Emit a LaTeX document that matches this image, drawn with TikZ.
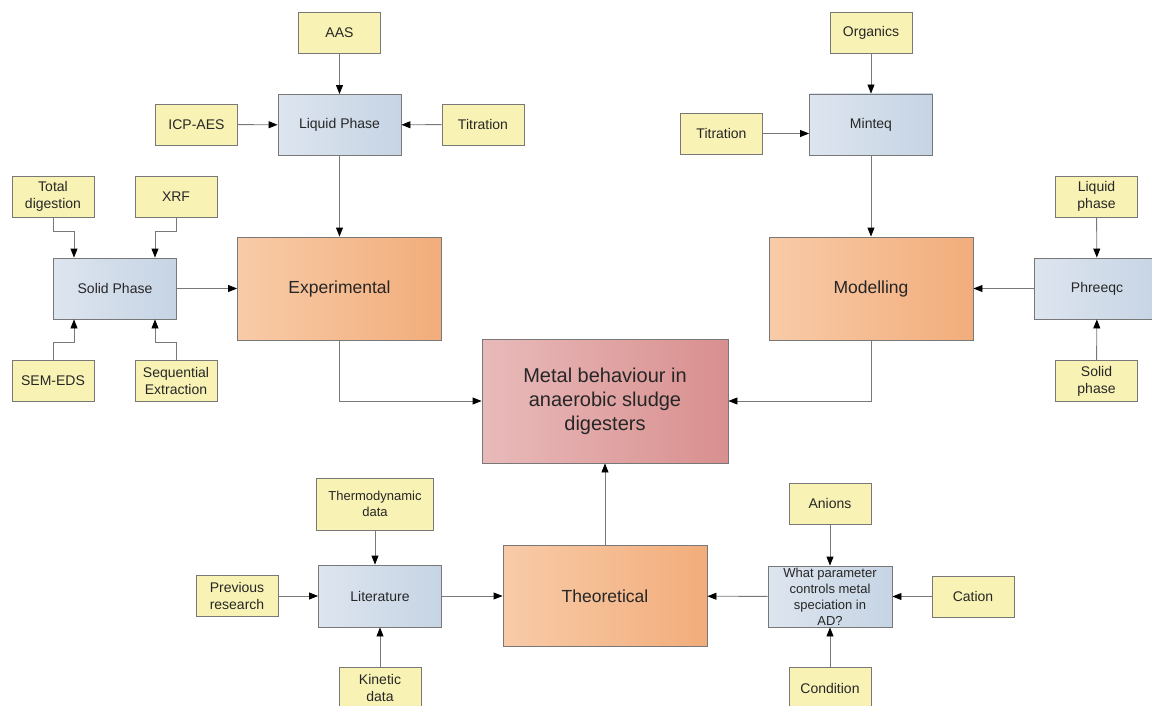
\documentclass[tikz,border=0pt]{standalone}
\usepackage{fontspec}
\setmainfont{Liberation Sans}
\usetikzlibrary{arrows.meta}
\definecolor{edge}{HTML}{787878}
\definecolor{ink}{HTML}{262626}
\definecolor{yell}{HTML}{F8F3B4}
\definecolor{bluL}{HTML}{DDE5EF}
\definecolor{bluR}{HTML}{C6D4E4}
\definecolor{orgL}{HTML}{F8CBA8}
\definecolor{orgR}{HTML}{F2AD7B}
\definecolor{redL}{HTML}{E9BABA}
\definecolor{redR}{HTML}{D98F8F}
\begin{document}
\begin{tikzpicture}[x=1pt,y=-1pt,
  >={Triangle[length=9pt,width=7pt,color=black]},
  box/.style={draw=edge,line width=0.9pt,inner sep=1pt,align=center,text=ink},
  leaf/.style={box,fill=yell,minimum width=82pt,minimum height=41pt,
    font=\fontsize{14}{17}\selectfont},
  sub/.style={box,left color=bluL,right color=bluR,minimum width=123pt,
    minimum height=61pt,font=\fontsize{14}{17}\selectfont},
  main/.style={box,left color=orgL,right color=orgR,minimum width=204pt,
    minimum height=103pt,font=\fontsize{17.5}{21}\selectfont},
  link/.style={draw=edge,line width=0.9pt,->}]
  \clip (0,0) rectangle (1152,706);
  \fill[white] (0,0) rectangle (1152,706);

  % centre
  \node[box,left color=redL,right color=redR,minimum width=246pt,minimum height=124pt,
    font=\fontsize{20}{24}\selectfont] (metal) at (605,401)
    {Metal behaviour in\\anaerobic sludge\\digesters};

  % experimental branch
  \node[main] (exper) at (339.5,288.5) {Experimental};
  \node[sub] (liquid) at (339.5,125) {Liquid Phase};
  \node[leaf] (aas) at (339.5,32.5) {AAS};
  \node[leaf] (icp) at (196.5,124.5) {ICP-AES};
  \node[leaf] (titrA) at (483,124.5) {Titration};
  \node[sub] (solid) at (115,288.5) {Solid Phase};
  \node[leaf] (total) at (53,196.5) {Total\\digestion};
  \node[leaf] (xrf) at (176,196.5) {XRF};
  \node[leaf] (sem) at (53,381) {SEM-EDS};
  \node[leaf] (seq) at (176,381) {Sequential\\Extraction};

  \draw[link] (aas) -- (liquid);
  \draw[link] (icp) -- (liquid);
  \draw[link] (titrA) -- (liquid);
  \draw[link] (liquid) -- (exper);
  \draw[link] (total.south) -- ++(0,13.5) -| ([xshift=-41pt]solid.north);
  \draw[link] (xrf.south) -- ++(0,13.5) -| ([xshift=40pt]solid.north);
  \draw[link] (sem.north) -- ++(0,-18) -| ([xshift=-41pt]solid.south);
  \draw[link] (seq.north) -- ++(0,-18) -| ([xshift=40pt]solid.south);
  \draw[link] (solid) -- (exper);
  \draw[link] (exper.south) |- (metal.west);

  % modelling branch
  \node[main] (model) at (871,288.5) {Modelling};
  \node[sub] (minteq) at (871,124.5) {Minteq};
  \node[leaf] (organics) at (871,32.5) {Organics};
  \node[leaf] (titrB) at (721.5,133.5) {Titration};
  \node[sub,minimum width=126pt] (phreeqc) at (1097,288.5) {Phreeqc};
  \node[leaf] (liqph) at (1096.5,196.5) {Liquid\\phase};
  \node[leaf] (solph) at (1096.5,381) {Solid\\phase};

  \draw[link] (organics) -- (minteq);
  \draw[link] (titrB.east) -- (titrB.east -| minteq.west);
  \draw[link] (minteq) -- (model);
  \draw[link] (liqph) -- (phreeqc);
  \draw[link] (solph) -- (phreeqc);
  \draw[link] (phreeqc) -- (model);
  \draw[link] (model.south) |- (metal.east);

  % theoretical branch
  \node[main,minimum height=101pt] (theo) at (605,596) {Theoretical};
  \node[sub,minimum height=62pt] (lit) at (380,596) {Literature};
  \node[leaf,minimum width=117pt,minimum height=52pt,font=\fontsize{13}{16}\selectfont]
    (thermo) at (375,504) {Thermodynamic\\data};
  \node[leaf] (prev) at (237,596) {Previous\\research};
  \node[leaf] (kin) at (380,688) {Kinetic\\data};
  \node[sub,minimum width=124pt,font=\fontsize{13}{16}\selectfont] (quest) at (830,596.5)
    {What parameter\\controls metal\\speciation in\\AD?};
  \node[leaf] (anions) at (830,503.5) {Anions};
  \node[leaf] (cation) at (973,596.5) {Cation};
  \node[leaf] (cond) at (830,688) {Condition};

  \draw[link] (thermo) -- (thermo |- lit.north);
  \draw[link] (prev) -- (lit);
  \draw[link] (kin) -- (lit);
  \draw[link] (lit) -- (theo);
  \draw[link] (anions) -- (quest);
  \draw[link] (cation) -- (quest);
  \draw[link] (cond) -- (quest);
  \draw[link] (quest) -- (theo);
  \draw[link] (theo) -- (metal);
\end{tikzpicture}
\end{document}
